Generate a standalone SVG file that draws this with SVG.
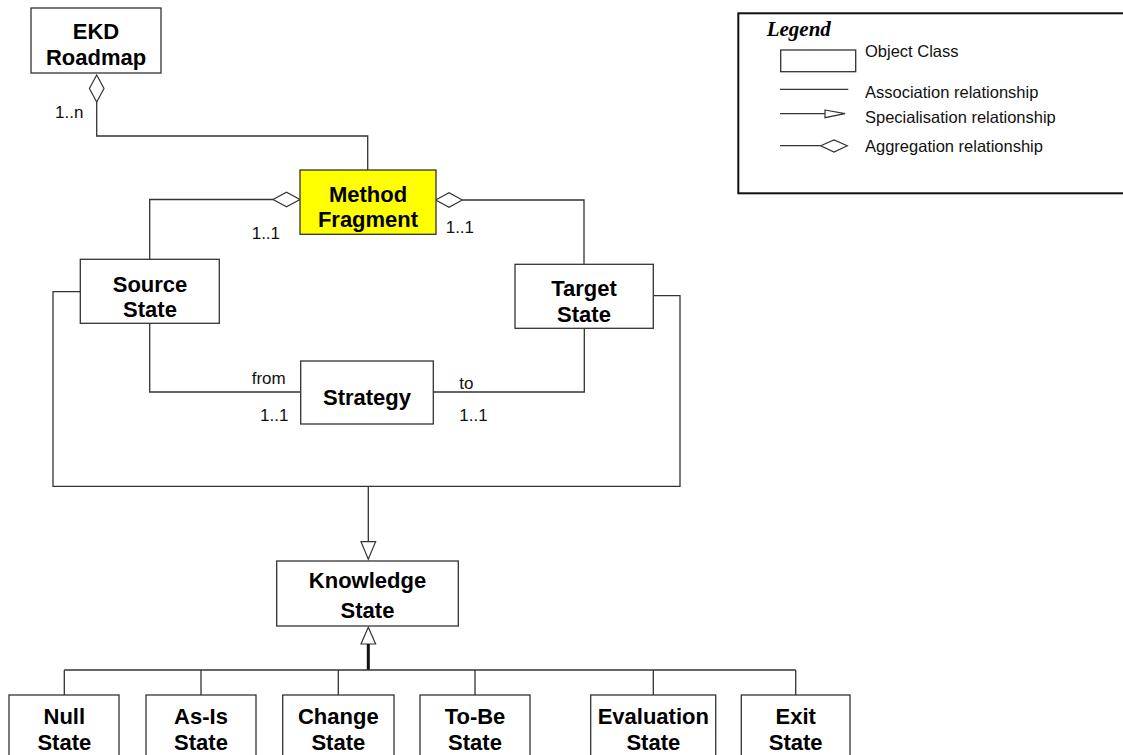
<svg xmlns="http://www.w3.org/2000/svg" width="1123" height="755" viewBox="0 0 1123 755">
<style>
.box{fill:#fff;stroke:#333;stroke-width:1.3}
.t{font-family:"Liberation Sans",Arial,sans-serif;font-weight:bold;font-size:22px;fill:#000;text-anchor:middle}
.l{font-family:"Liberation Sans",Arial,sans-serif;font-size:17px;fill:#111}
.lg{font-family:"Liberation Sans",Arial,sans-serif;font-size:16.5px;fill:#111}
.c{fill:none;stroke:#333;stroke-width:1.3}
.hd{fill:#fff;stroke:#333;stroke-width:1.2}
</style>
<rect width="1123" height="755" fill="#fff"/>

<g id="connectors">
  <polyline class="c" points="96.7,102 96.7,136 367.7,136 367.7,170"/>
  <polygon class="hd" points="96.7,75 104,88.5 96.7,102 89.4,88.5"/>
  <polyline class="c" points="273,199.5 149.7,199.5 149.7,259.3"/>
  <polygon class="hd" points="300,199.5 286.5,206.8 273,199.5 286.5,192.2"/>
  <polyline class="c" points="462.3,200 584,200 584,264.3"/>
  <polygon class="hd" points="435.7,200 449,192.7 462.3,200 449,207.3"/>
  <polyline class="c" points="149.7,323.3 149.7,392 300.7,392"/>
  <polyline class="c" points="433.3,392 584.3,392 584.3,328.3"/>
  <polyline class="c" points="80.3,291.7 53,291.7 53,486.3 680,486.3 680,295.7 653.3,295.7"/>
  <line class="c" x1="368.3" y1="486.3" x2="368.3" y2="541.7"/>
  <polygon class="hd" points="361,541.7 375.6,541.7 368.3,559.3"/>
  <polygon class="hd" points="368.3,627.3 375.6,644 361,644"/>
  <line x1="368.3" y1="644" x2="368.3" y2="670" stroke="#111" stroke-width="3"/>
  <line class="c" x1="64.3" y1="670" x2="795.7" y2="670"/>
  <line class="c" x1="64.3" y1="670" x2="64.3" y2="695"/>
  <line class="c" x1="201" y1="670" x2="201" y2="695"/>
  <line class="c" x1="338.3" y1="670" x2="338.3" y2="695"/>
  <line class="c" x1="475" y1="670" x2="475" y2="695"/>
  <line class="c" x1="653.3" y1="670" x2="653.3" y2="695"/>
  <line class="c" x1="795.7" y1="670" x2="795.7" y2="695"/>
  <text class="l" x="55" y="118">1..n</text>
  <text class="l" x="251.7" y="238.5">1..1</text>
  <text class="l" x="445.7" y="233">1..1</text>
  <text class="l" x="251.7" y="383.5">from</text>
  <text class="l" x="260" y="420.7">1..1</text>
  <text class="l" x="459.3" y="389">to</text>
  <text class="l" x="459.3" y="421">1..1</text>
</g>

<g id="ekd-roadmap">
  <rect class="box" x="31" y="8" width="130" height="65"/>
  <text class="t" x="96" y="39">EKD</text>
  <text class="t" x="96" y="65">Roadmap</text>
</g>
<g id="method-fragment">
  <rect x="300" y="170" width="136" height="64.3" fill="#ffff00" stroke="#333" stroke-width="1.3"/>
  <text class="t" x="368" y="201.7">Method</text>
  <text class="t" x="368" y="227.3">Fragment</text>
</g>
<g id="source-state">
  <rect class="box" x="80.3" y="259.3" width="139" height="64"/>
  <text class="t" x="150" y="291.7">Source</text>
  <text class="t" x="150" y="316.7">State</text>
</g>
<g id="target-state">
  <rect class="box" x="515" y="264.3" width="138.3" height="64"/>
  <text class="t" x="584" y="295.7">Target</text>
  <text class="t" x="584" y="321.7">State</text>
</g>
<g id="strategy">
  <rect class="box" x="300.7" y="361" width="132.6" height="63"/>
  <text class="t" x="367" y="405">Strategy</text>
</g>
<g id="knowledge-state">
  <rect class="box" x="276.7" y="561" width="181.6" height="65"/>
  <text class="t" x="367.5" y="587.7">Knowledge</text>
  <text class="t" x="367.5" y="618.3">State</text>
</g>
<g id="null-state">
  <rect class="box" x="9" y="695" width="110" height="80"/>
  <text class="t" x="64.3" y="724.3">Null</text>
  <text class="t" x="64.3" y="750">State</text>
</g>
<g id="as-is-state">
  <rect class="box" x="146" y="695" width="110" height="80"/>
  <text class="t" x="201" y="724.3">As-Is</text>
  <text class="t" x="201" y="750">State</text>
</g>
<g id="change-state">
  <rect class="box" x="282.7" y="695" width="111.3" height="80"/>
  <text class="t" x="338.3" y="724.3">Change</text>
  <text class="t" x="338.3" y="750">State</text>
</g>
<g id="to-be-state">
  <rect class="box" x="420" y="695" width="110" height="80"/>
  <text class="t" x="475" y="724.3">To-Be</text>
  <text class="t" x="475" y="750">State</text>
</g>
<g id="evaluation-state">
  <rect class="box" x="590.7" y="695" width="125" height="80"/>
  <text class="t" x="653.3" y="724.3">Evaluation</text>
  <text class="t" x="653.3" y="750">State</text>
</g>
<g id="exit-state">
  <rect class="box" x="741.3" y="695" width="108.7" height="80"/>
  <text class="t" x="795.7" y="724.3">Exit</text>
  <text class="t" x="795.7" y="750">State</text>
</g>

<g id="legend">
  <rect x="738.3" y="13.3" width="400" height="180" fill="#fff" stroke="#111" stroke-width="2"/>
  <text x="766.7" y="36" font-family="'Liberation Serif','Times New Roman',serif" font-weight="bold" font-style="italic" font-size="21">Legend</text>
  <rect class="box" x="780.7" y="50" width="75" height="21.7"/>
  <text class="lg" x="865" y="56.7">Object Class</text>
  <line class="c" x1="780" y1="89.3" x2="848.3" y2="89.3"/>
  <text class="lg" x="865" y="97.5">Association relationship</text>
  <line class="c" x1="780" y1="113.7" x2="825" y2="113.7"/>
  <polygon class="hd" points="825,110 845,113.7 825,117.7"/>
  <text class="lg" x="865" y="123.3">Specialisation relationship</text>
  <line class="c" x1="780" y1="145.7" x2="820.7" y2="145.7"/>
  <polygon class="hd" points="820.7,145.7 834,140 847.3,145.7 834,152"/>
  <text class="lg" x="865" y="151.7">Aggregation relationship</text>
</g>
</svg>
